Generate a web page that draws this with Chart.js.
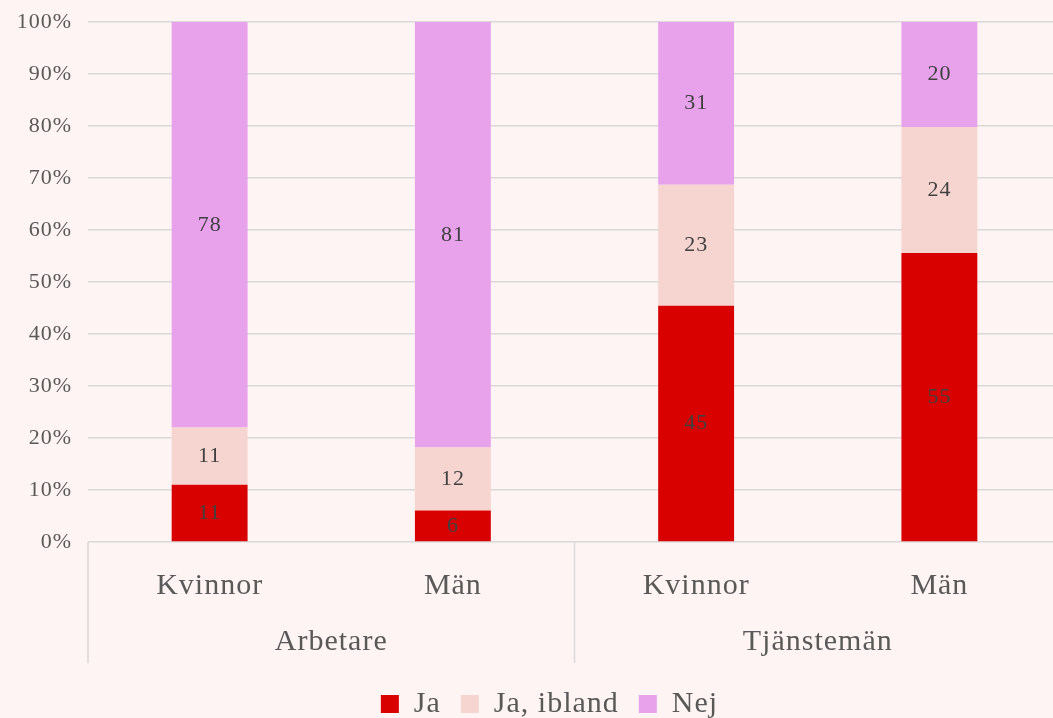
<!DOCTYPE html>
<html lang="sv">
<head>
<meta charset="UTF-8">
<title>Ja / Ja, ibland / Nej</title>
<script src="https://cdn.jsdelivr.net/npm/chart.js"></script>
<style>
    html, body { margin: 0; padding: 0; background: #fdf4f3; overflow: hidden; }
    #wrap { width: 1061px; height: 718px; }
</style>
</head>
<body>
<div id="wrap"><canvas id="chart"></canvas></div>
<script>
// data
const categories = ['Kvinnor', 'Män', 'Kvinnor', 'Män'];
const groups = ['Arbetare', 'Tjänstemän'];
const ja = [11, 6, 45, 55];
const jaIbland = [11, 12, 23, 24];
const nej = [78, 81, 31, 20];
const seriesNames = ['Ja', 'Ja, ibland', 'Nej'];
const seriesColors = ['#d90000', '#f6d5d0', '#e8a2ec'];

const FONT = '"Liberation Serif", "Times New Roman", serif';
const raw = [ja, jaIbland, nej];
// 100% stacked: each bar scaled to its own total
const totals = categories.map((c, i) => ja[i] + jaIbland[i] + nej[i]);

// the original text is set a little wide
const spacing = {
    id: 'spacing',
    beforeUpdate(chart) { chart.ctx.letterSpacing = '1px'; },
    beforeDraw(chart) { chart.ctx.letterSpacing = '1px'; },
    afterLayout(chart) {
        // legend sits a bit right of centre in the original
        chart.legend.left += 19;
        chart.legend.right += 19;
    }
};

const barLabels = {
    id: 'barLabels',
    afterDatasetsDraw(chart) {
        const ctx = chart.ctx;
        ctx.save();
        ctx.font = '22px ' + FONT;
        ctx.fillStyle = '#404040';
        ctx.textAlign = 'center';
        ctx.textBaseline = 'middle';
        chart.data.datasets.forEach((ds, d) => {
            chart.getDatasetMeta(d).data.forEach((el, i) => {
                ctx.fillText(String(raw[d][i]), el.x, (el.y + el.base) / 2);
            });
        });
        ctx.restore();
    }
};

const groupAxis = {
    id: 'groupAxis',
    afterDraw(chart) {
        const ctx = chart.ctx;
        const x = chart.scales.x;
        const top = chart.chartArea.bottom;
        const bottom = top + 121;
        ctx.save();
        ctx.strokeStyle = '#d9d9d9';
        ctx.lineWidth = 1.5;
        ctx.beginPath();
        [0, 2, 4].forEach(i => {
            const px = x.left + (x.right - x.left) * i / categories.length;
            ctx.moveTo(px, top);
            ctx.lineTo(px, bottom);
        });
        ctx.stroke();
        ctx.font = '30px ' + FONT;
        ctx.fillStyle = '#595959';
        ctx.textAlign = 'center';
        ctx.textBaseline = 'middle';
        groups.forEach((g, k) => {
            const cx = (x.getPixelForValue(k * 2) + x.getPixelForValue(k * 2 + 1)) / 2;
            ctx.fillText(g, cx, top + 100);
        });
        ctx.restore();
    }
};

new Chart(document.getElementById('chart'), {
    type: 'bar',
    data: {
        labels: categories,
        datasets: raw.map((vals, d) => ({
            label: seriesNames[d],
            data: vals.map((v, i) => v / totals[i] * 100),
            backgroundColor: seriesColors[d],
            barPercentage: 0.312,
            categoryPercentage: 1
        }))
    },
    options: {
        responsive: true,
        maintainAspectRatio: false,
        animation: false,
        layout: { padding: { top: 22, left: 0, right: 0, bottom: -11 } },
        plugins: {
            tooltip: { enabled: false },
            legend: {
                position: 'bottom',
                labels: {
                    boxWidth: 18,
                    boxHeight: 18,
                    padding: 20,
                    color: '#595959',
                    font: { family: FONT, size: 30 }
                }
            }
        },
        scales: {
            x: {
                stacked: true,
                grid: { display: false, drawTicks: false },
                border: { display: false },
                ticks: { color: '#595959', font: { family: FONT, size: 30 }, padding: 26 },
                afterFit(s) { s.height = 127; }
            },
            y: {
                stacked: true,
                min: 0,
                max: 100,
                grid: { color: '#d9d9d9', lineWidth: 1.5, drawTicks: false },
                border: { display: false },
                ticks: {
                    stepSize: 10,
                    padding: 16,
                    color: '#595959',
                    font: { family: FONT, size: 22 },
                    callback: v => v + '%'
                },
                afterFit(s) {
                    s.width = 88;
                    s.paddingTop = 0;
                    s.paddingBottom = 0;
                }
            }
        }
    },
    plugins: [spacing, barLabels, groupAxis]
});
</script>
</body>
</html>
